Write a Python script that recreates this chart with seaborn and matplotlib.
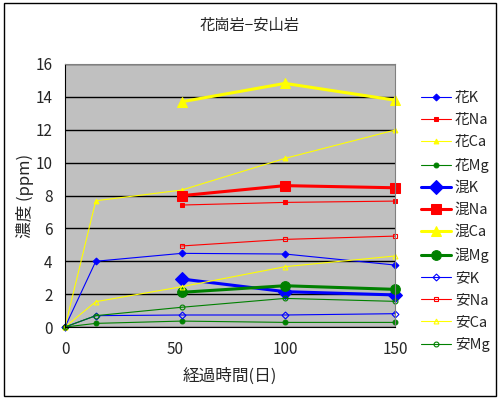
import numpy as np
import pandas as pd
import seaborn as sns
import matplotlib.pyplot as plt
from matplotlib.patches import Rectangle

sns.set_style('white')
plt.rcParams['font.family'] = ['Noto Sans CJK JP', 'DejaVu Sans']

# days elapsed
days = [0, 14, 53, 100, 150]

# concentrations (ppm); nan = not measured
hana_K = [0, 4.0, 4.48, 4.44, 3.77]
hana_Na = [0, np.nan, 7.42, 7.58, 7.66]
hana_Ca = [0, 7.68, 8.33, 10.26, 11.98]
hana_Mg = [0, 0.22, 0.36, 0.28, 0.28]
kon_K = [np.nan, np.nan, 2.92, 2.15, 1.95]
kon_Na = [np.nan, np.nan, 7.99, 8.6, 8.47]
kon_Ca = [np.nan, np.nan, 13.7, 14.82, 13.8]
kon_Mg = [np.nan, np.nan, 2.11, 2.51, 2.29]
an_K = [0, 0.69, 0.73, 0.73, 0.81]
an_Na = [0, np.nan, 4.93, 5.33, 5.53]
an_Ca = [0, 1.54, 2.45, 3.67, 4.32]
an_Mg = [0, 0.69, 1.2, 1.74, 1.56]

series = [
    ('花K', hana_K, 'blue', 'D', 'small'),
    ('花Na', hana_Na, 'red', 's', 'small'),
    ('花Ca', hana_Ca, 'yellow', '^', 'small'),
    ('花Mg', hana_Mg, 'green', 'o', 'small'),
    ('混K', kon_K, 'blue', 'D', 'big'),
    ('混Na', kon_Na, 'red', 's', 'big'),
    ('混Ca', kon_Ca, 'yellow', '^', 'big'),
    ('混Mg', kon_Mg, 'green', 'o', 'big'),
    ('安K', an_K, 'blue', 'D', 'open'),
    ('安Na', an_Na, 'red', 's', 'open'),
    ('安Ca', an_Ca, 'yellow', '^', 'open'),
    ('安Mg', an_Mg, 'green', 'o', 'open'),
]

fig = plt.figure(figsize=(5, 4), dpi=100)
ax = fig.add_axes([0.13, 0.1825, 0.66, 0.6575])
ax.set_facecolor('#c0c0c0')

for name, vals, col, mk, kind in series:
    df = pd.DataFrame({'day': days, 'ppm': vals})
    # split into runs without gaps so missing values break the line
    grp = df['ppm'].isna().cumsum()
    df = df.assign(seg=grp).dropna()
    if kind == 'big':
        kw = dict(linewidth=2.2, markersize=7, markerfacecolor=col)
    elif kind == 'small':
        kw = dict(linewidth=0.8, markersize=3.5, markerfacecolor=col)
    else:
        kw = dict(linewidth=0.8, markersize=3.5, markerfacecolor='none', markeredgewidth=0.8)
    first = True
    for _, d in df.groupby('seg'):
        sns.lineplot(data=d, x='day', y='ppm', color=col, marker=mk, markeredgecolor=col,
                     label=name if first else None, ax=ax, clip_on=False, **kw)
        first = False

ax.set_xlim(0, 150)
ax.set_ylim(0, 16)
ax.set_xticks([0, 50, 100, 150])
ax.set_yticks(range(0, 17, 2))
ax.yaxis.grid(True, color='black', linewidth=1)
ax.set_axisbelow(True)
ax.tick_params(axis='x', direction='in', length=4, labelsize=11, pad=10)
ax.tick_params(axis='y', direction='out', length=0, labelsize=11, pad=9)
for s in ['left', 'bottom']:
    ax.spines[s].set_color('black')
for s in ['top', 'right']:
    ax.spines[s].set_color('#808080')
ax.set_xlabel('経過時間(日)', fontsize=12, labelpad=7)
ax.set_ylabel('濃度 (ppm)', fontsize=12, labelpad=1)

fig.suptitle('花崗岩−安山岩', fontsize=11, y=0.937, va='center')

ax.legend(loc='center left', bbox_to_anchor=(1.06, 0.40), frameon=False,
          fontsize=10.5, handlelength=2.1, labelspacing=0.56, handletextpad=0.25,
          borderaxespad=0)

fig.patches.append(Rectangle((0.008, 0.01), 0.984, 0.982, transform=fig.transFigure,
                             fill=False, edgecolor='black', linewidth=1))

plt.savefig('out.png', dpi=100)
